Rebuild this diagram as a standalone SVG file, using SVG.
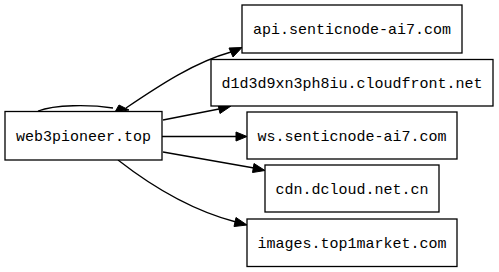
<svg xmlns="http://www.w3.org/2000/svg" width="499" height="272" viewBox="0 0 499 272">
<style>
.n rect{fill:#fff;stroke:#000;stroke-width:1.3}
.n text{font-family:"Liberation Mono",monospace;font-size:15px;fill:#000;text-anchor:middle}
.e path{fill:none;stroke:#000;stroke-width:1.3}
.e polygon{fill:#000;stroke:#000;stroke-width:1}
</style>
<rect width="499" height="272" fill="#fff"/>
<g id="edges" class="e">
<path d="M38,111 C55,104.5 90,104.5 113,108"/>
<polygon points="119,105 129,110 115,112"/>
<path d="M126,108 C160,85 195,62 231,52"/>
<polygon points="229,48 233,57 242,47.5"/>
<path d="M163,120 L219,109"/>
<polygon points="218,104.5 220,113.5 231,106"/>
<path d="M162,136.5 L236,136.5"/>
<polygon points="236,132 236,141 247,136.5"/>
<path d="M163,152 L254,168"/>
<polygon points="254,163.5 252.5,172.5 265,170.5"/>
<path d="M118,160 C150,185 190,210 236,222"/>
<polygon points="236,217.5 234,226.5 247,225"/>
</g>
<g id="web3pioneer" class="n"><rect x="5" y="111.5" width="157" height="48.5"/><text x="83.5" y="141">web3pioneer.top</text></g>
<g id="api" class="n"><rect x="242" y="5" width="220" height="48"/><text x="352" y="34">api.senticnode-ai7.com</text></g>
<g id="cloudfront" class="n"><rect x="211" y="59.5" width="282" height="46.5"/><text x="352" y="88">d1d3d9xn3ph8iu.cloudfront.net</text></g>
<g id="ws" class="n"><rect x="247" y="112" width="210" height="47"/><text x="352" y="141">ws.senticnode-ai7.com</text></g>
<g id="cdn" class="n"><rect x="265" y="165" width="174" height="47"/><text x="352" y="194">cdn.dcloud.net.cn</text></g>
<g id="images" class="n"><rect x="247" y="219" width="210" height="47.5"/><text x="352" y="248">images.top1market.com</text></g>
</svg>
